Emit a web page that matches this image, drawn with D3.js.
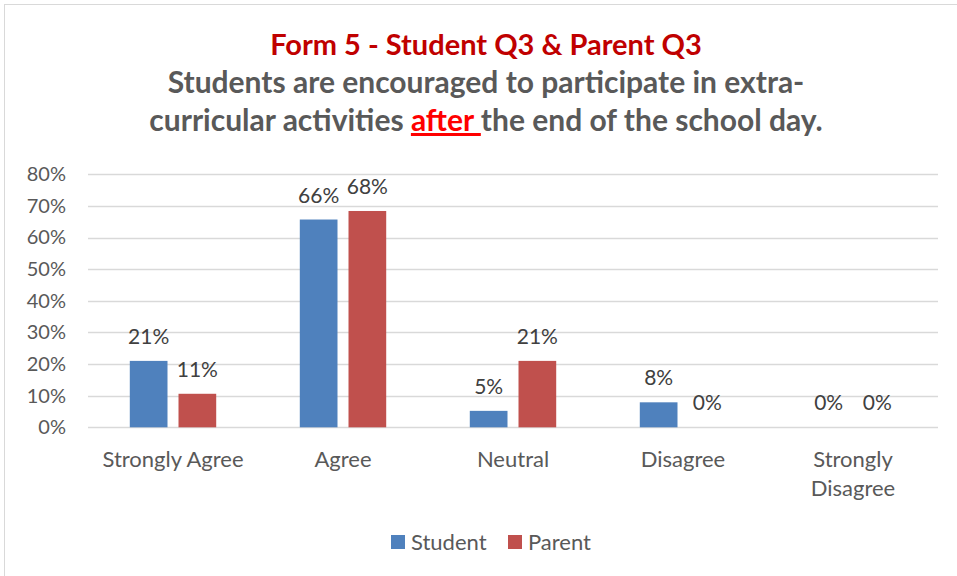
<!DOCTYPE html>
<html>
<head>
<meta charset="utf-8">
<script src="https://cdn.jsdelivr.net/npm/d3@7"></script>
<style>
body { margin: 0; background: #fff; }
svg { display: block; font-family: Lato, "Open Sans", sans-serif; }
</style>
</head>
<body>
<svg id="chart" width="957" height="576"></svg>
<script>
var categories = ["Strongly Agree", "Agree", "Neutral", "Disagree", "Strongly Disagree"];
var seriesNames = ["Student", "Parent"];
var student = [0.21, 0.657, 0.052, 0.079, 0];
var parent = [0.106, 0.684, 0.21, 0, 0];
var yTicks = [0, 0.1, 0.2, 0.3, 0.4, 0.5, 0.6, 0.7, 0.8];
var colors = ["#4F81BD", "#C0504D"];

var svg = d3.select("#chart");
var fmt = d3.format(".0%");

// outer frame
svg.append("rect")
	.attr("x", 4.5).attr("y", 4.5)
	.attr("width", 970).attr("height", 590)
	.attr("fill", "#fff")
	.attr("stroke", "#D9D9D9");

// titles
svg.append("text")
	.attr("x", 486).attr("y", 55)
	.attr("text-anchor", "middle")
	.attr("font-size", 29).attr("font-weight", "bold")
	.attr("fill", "#C00000")
	.text("Form 5 - Student Q3 & Parent Q3");
svg.append("text")
	.attr("x", 486).attr("y", 93)
	.attr("text-anchor", "middle")
	.attr("font-size", 30).attr("font-weight", "bold")
	.attr("fill", "#595959")
	.text("Students are encouraged to participate in extra-");
var line3 = svg.append("text")
	.attr("x", 486).attr("y", 131)
	.attr("text-anchor", "middle")
	.attr("font-size", 30).attr("font-weight", "bold")
	.attr("fill", "#595959");
line3.append("tspan").text("curricular activities ");
line3.append("tspan").attr("fill", "#FF0000").attr("text-decoration", "underline").text("after ");
line3.append("tspan").text("the end of the school day.");

// scales
var margin = {left: 88, right: 938, top: 174.3, bottom: 427.3};
var y = d3.scaleLinear().domain([0, 0.8]).range([margin.bottom, margin.top]);
var x0 = d3.scaleBand().domain(categories).range([margin.left, margin.right]).paddingInner(0).paddingOuter(0);
var x1 = d3.scaleBand().domain(seriesNames).range([0, x0.bandwidth()]).paddingInner(0.226).paddingOuter(0.858);

// gridlines
svg.append("g").selectAll("line")
	.data(yTicks)
	.enter().append("line")
	.attr("x1", margin.left).attr("x2", margin.right)
	.attr("y1", function (d) { return Math.round(y(d)) + 0.5; })
	.attr("y2", function (d) { return Math.round(y(d)) + 0.5; })
	.attr("stroke", "#D9D9D9").attr("stroke-width", 1.5);

// y axis labels
var yAxis = d3.axisLeft(y).tickValues(yTicks).tickFormat(fmt).tickSize(0).tickPadding(0);
var gy = svg.append("g").attr("transform", "translate(66,0)").call(yAxis);
gy.select(".domain").remove();
gy.selectAll("text").attr("font-size", 20).attr("fill", "#595959").attr("font-family", "Lato, sans-serif");

// bars
var rows = categories.map(function (c, i) {
	return {cat: c, vals: [{s: "Student", v: student[i]}, {s: "Parent", v: parent[i]}]};
});
var groups = svg.append("g").selectAll("g")
	.data(rows)
	.enter().append("g")
	.attr("transform", function (d) { return "translate(" + x0(d.cat) + ",0)"; });
groups.selectAll("rect")
	.data(function (d) { return d.vals; })
	.enter().append("rect")
	.attr("x", function (d) { return x1(d.s); })
	.attr("width", x1.bandwidth())
	.attr("y", function (d) { return y(d.v); })
	.attr("height", function (d) { return y(0) - y(d.v); })
	.attr("fill", function (d, i) { return colors[i]; });
groups.selectAll("text.lbl")
	.data(function (d) { return d.vals; })
	.enter().append("text")
	.attr("class", "lbl")
	.attr("x", function (d) { return x1(d.s) + x1.bandwidth() / 2; })
	.attr("y", function (d) { return y(d.v) - 17; })
	.attr("text-anchor", "middle")
	.attr("font-size", 21)
	.attr("fill", "#404040")
	.text(function (d) { return fmt(d.v); });

// category labels
var catLabels = svg.append("g").selectAll("text")
	.data(categories)
	.enter().append("text")
	.attr("x", function (d) { return x0(d) + x0.bandwidth() / 2; })
	.attr("y", 467)
	.attr("text-anchor", "middle")
	.attr("font-size", 22)
	.attr("fill", "#595959");
catLabels.each(function (d) {
	var t = d3.select(this);
	if (d == "Strongly Disagree") {
		t.append("tspan").attr("x", t.attr("x")).attr("dy", 0).text("Strongly");
		t.append("tspan").attr("x", t.attr("x")).attr("dy", 29).text("Disagree");
	} else {
		t.text(d);
	}
});

// legend
var legend = svg.append("g");
var legendX = [391, 508];
seriesNames.forEach(function (s, i) {
	legend.append("rect")
		.attr("x", legendX[i]).attr("y", 535)
		.attr("width", 14).attr("height", 14)
		.attr("fill", colors[i]);
	legend.append("text")
		.attr("x", legendX[i] + 20).attr("y", 550)
		.attr("font-size", 22)
		.attr("fill", "#595959")
		.text(s);
});
</script>
</body>
</html>
